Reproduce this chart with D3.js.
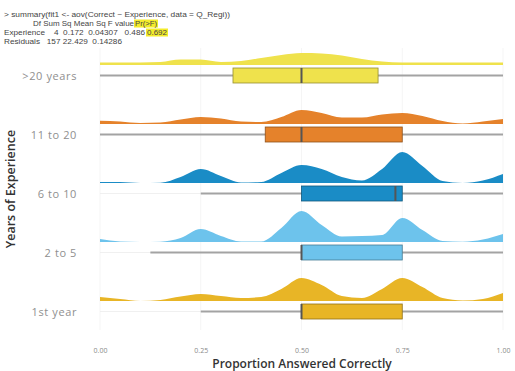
<!DOCTYPE html>
<html><head><meta charset="utf-8">
<script src="https://cdn.jsdelivr.net/npm/d3@7"></script>
<style>body{margin:0;background:#fff}svg{display:block}</style>
</head><body>
<script>
const categories = [">20 years","11 to 20","6 to 10","2 to 5","1st year"];
const colors = ["#efe24c","#e5822b","#1a8cc6","#6dc3ec","#e8b526"];
const densityX = [0,0.05,0.1,0.15,0.2,0.25,0.3,0.35,0.4,0.45,0.5,0.55,0.6,0.65,0.7,0.75,0.8,0.85,0.9,0.95,1];
const densGt20   = [0.25,0.25,0.25,0.3,0.55,0.55,0.3,0.4,0.7,1.0,1.2,1.15,0.95,0.6,0.35,0.25,0.25,0.25,0.25,0.25,0.25];
const dens11to20 = [0.33,0.25,0.1,0.15,0.45,0.7,0.55,0.25,0.2,0.7,1.4,1.1,0.65,0.65,0.95,1.1,0.8,0.3,0.05,0.25,0.5];
const dens6to10  = [0.1,0.1,0,0.03,0.6,1.4,0.7,0.05,0.1,1.0,1.8,1.4,0.6,0.25,1.4,3.1,1.7,0.2,0,0.25,0.9];
const dens2to5   = [0.3,0.05,0,0.03,0.4,1.3,0.6,0.05,0.05,1.4,3.1,1.7,0.55,0.6,0.7,2.4,1.2,0.1,0.03,0.25,0.8];
const dens1st    = [0.4,0.2,0,0.1,0.45,0.7,0.5,0.3,0.4,1.2,2.3,1.6,0.5,0.3,1.2,2.3,1.4,0.3,0.05,0.2,0.8];
const densities = [densGt20,dens11to20,dens6to10,dens2to5,dens1st];
const whiskerLo = [0,0,0.25,0.125,0.25];
const whiskerHi = [1,1,1,1,1];
const q1 = [0.33,0.41,0.5,0.5,0.5];
const medians = [0.5,0.5,0.733,0.5,0.5];
const q3 = [0.69,0.75,0.75,0.75,0.75];
const xTicks = [0,0.25,0.5,0.75,1];
// annotation: [text, highlighted part]
const anovaLines = [
  ["> summary(fit1 <- aov(Correct ~ Experience, data = Q_Regi))", ""],
  ["Df Sum Sq Mean Sq F value", "Pr(>F)"],
  ["Experience    4  0.172  0.04307   0.486", "0.692"],
  ["Residuals   157 22.429  0.14286", ""]
];

const W=515,H=371;
const svg=d3.select("body").append("svg").attr("width",W).attr("height",H);
const x=d3.scaleLinear().domain([0,1]).range([100,503]);
const y=d3.scalePoint().domain(categories).range([75.5,311.5]);
const dScale=d3.scaleLinear().domain([0,3.2]).range([0,32]);

// faint grid
const grid=svg.append("g");
xTicks.forEach(t=>grid.append("line").attr("x1",x(t)).attr("x2",x(t)).attr("y1",48).attr("y2",330).attr("stroke","#f3f3f3").attr("stroke-width",0.8));
categories.forEach(c=>grid.append("line").attr("x1",x(0)).attr("x2",x(1)).attr("y1",y(c)).attr("y2",y(c)).attr("stroke","#ececec").attr("stroke-width",0.8));

// densities
categories.forEach((c,i)=>{
  const base=y(c)-10.5;
  const pts=densityX.map((v,j)=>[v,densities[i][j]]);
  const area=d3.area().x(d=>x(d[0])).y0(base).y1(d=>base-dScale(d[1])).curve(d3.curveMonotoneX);
  svg.append("path").datum(pts).attr("d",area).attr("fill",colors[i]);
});

// boxes
categories.forEach((c,i)=>{
  const cy=y(c);
  svg.append("line").attr("x1",x(whiskerLo[i])).attr("x2",x(whiskerHi[i])).attr("y1",cy).attr("y2",cy).attr("stroke","#a3a3a3").attr("stroke-width",2);
  svg.append("rect").attr("x",x(q1[i])).attr("y",cy-7.5).attr("width",x(q3[i])-x(q1[i])).attr("height",15)
    .attr("fill",colors[i]).attr("stroke",d3.color(colors[i]).darker(1.3)).attr("stroke-width",0.8);
  svg.append("line").attr("x1",x(medians[i])).attr("x2",x(medians[i])).attr("y1",cy-7.5).attr("y2",cy+7.5).attr("stroke","#555").attr("stroke-width",2);
});

// y axis labels
const yAxis=d3.axisLeft(y).tickSize(0).tickPadding(0);
const ga=svg.append("g").attr("transform","translate(77,0)").call(yAxis);
ga.select(".domain").remove();
ga.selectAll("text").attr("font-family","Open Sans, sans-serif").attr("font-size",11).attr("letter-spacing",0.6).attr("fill","#8f8f8f");

// x axis labels
const xAxis=d3.axisBottom(x).tickValues(xTicks).tickFormat(d3.format(".2f")).tickSize(0).tickPadding(0);
const gx=svg.append("g").attr("transform","translate(0,348)").call(xAxis);
gx.select(".domain").remove();
gx.selectAll("text").attr("font-family","Open Sans, sans-serif").attr("font-size",7).attr("fill","#8a8a8a");

// titles
svg.append("text").attr("x",302).attr("y",368).attr("text-anchor","middle").attr("font-family","Open Sans, sans-serif").attr("font-size",12).attr("font-weight",600).attr("fill","#333").text("Proportion Answered Correctly");
svg.append("text").attr("transform","translate(15,189) rotate(-90)").attr("text-anchor","middle").attr("font-family","Open Sans, sans-serif").attr("font-size",12.5).attr("font-weight",600).attr("fill","#333").text("Years of Experience");

// annotation
const ann=svg.append("g");
const lineSpec=[
  {y:17,x0:4,x1:230,hx:0,hx1:0},
  {y:26,x0:33,x1:134,hx:135,hx1:157},
  {y:35,x0:4,x1:145,hx:147,hx1:167},
  {y:43.5,x0:4,x1:122,hx:0,hx1:0}
];
anovaLines.forEach((l,i)=>{
  const s=lineSpec[i];
  if(l[1]){
    ann.append("rect").attr("x",s.hx-1).attr("y",s.y-6.5).attr("width",s.hx1-s.hx+2).attr("height",8).attr("fill","#f4ec2a");
    ann.append("text").attr("x",s.hx).attr("y",s.y).attr("font-family","Liberation Sans, Arial, sans-serif").attr("font-size",6.5).attr("fill","#444")
      .attr("textLength",s.hx1-s.hx).attr("lengthAdjust","spacingAndGlyphs").text(l[1]);
  }
  ann.append("text").attr("x",s.x0).attr("y",s.y).attr("font-family","Liberation Sans, Arial, sans-serif").attr("font-size",6.5).attr("fill","#444")
    .attr("textLength",s.x1-s.x0).attr("lengthAdjust","spacingAndGlyphs").style("white-space","pre").text(l[0]);
});
</script>
</body></html>
